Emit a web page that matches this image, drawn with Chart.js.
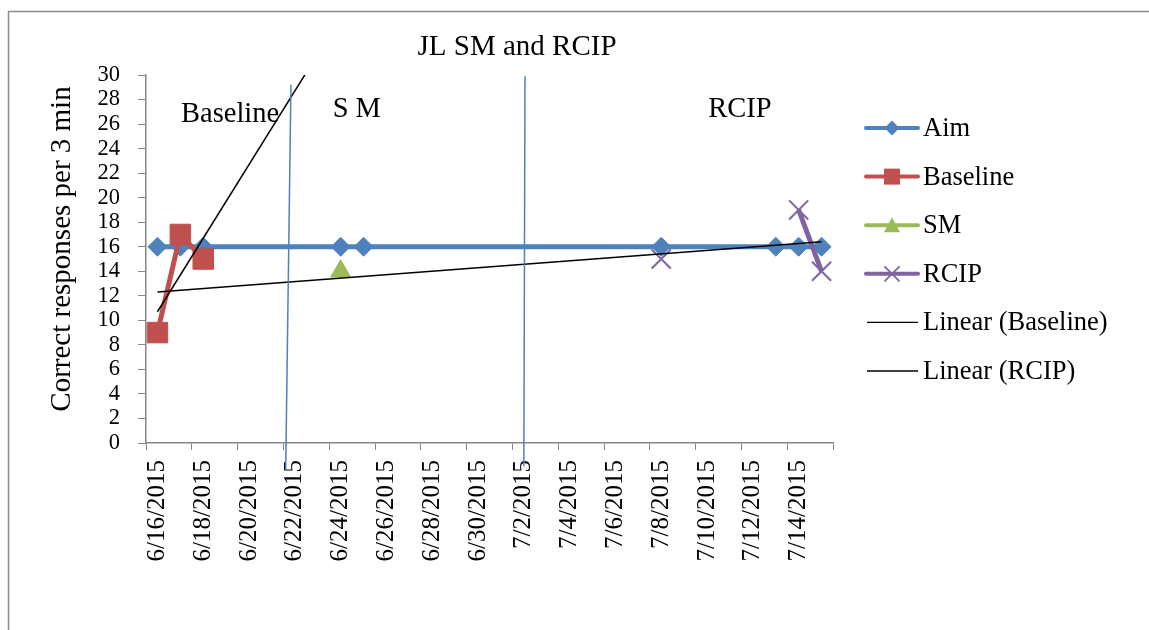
<!DOCTYPE html>
<html>
<head>
<meta charset="utf-8">
<title>JL SM and RCIP</title>
<script src="https://cdn.jsdelivr.net/npm/chart.js"></script>
<style>
  html, body { margin: 0; padding: 0; background: #fff; }
  #wrap { width: 1149px; height: 630px; position: relative; }
</style>
</head>
<body>
<div id="wrap"><canvas id="phaseChart"></canvas></div>
<script>
// data
const aimDates = ['6/16/2015', '6/17/2015', '6/18/2015', '6/24/2015', '6/25/2015', '7/8/2015', '7/13/2015', '7/14/2015', '7/15/2015'];
const aimValues = [16, 16, 16, 16, 16, 16, 16, 16, 16];

const baselineDates = ['6/16/2015', '6/17/2015', '6/18/2015'];
const baselineValues = [9, 17, 15];

const smDates = ['6/24/2015'];
const smValues = [14];

const rcipDates = ['7/8/2015', '7/13/2015', '7/14/2015', '7/15/2015'];
const rcipValues = [15, null, 19, 14];

// trend lines (Excel linear trendlines), end points as read
const trendBaselineDates = ['6/16/2015', '6/23/2015'];
const trendBaselineValues = [10.7, 31.7];
const trendRcipDates = ['6/16/2015', '7/15/2015'];
const trendRcipValues = [12.3, 16.4];

const xTickLabels = ['6/16/2015', '6/18/2015', '6/20/2015', '6/22/2015', '6/24/2015', '6/26/2015', '6/28/2015',
    '6/30/2015', '7/2/2015', '7/4/2015', '7/6/2015', '7/8/2015', '7/10/2015', '7/12/2015', '7/14/2015'];

const legendNames = ['Aim', 'Baseline', 'SM', 'RCIP', 'Linear (Baseline)', 'Linear (RCIP)'];
const phaseNames = ['Baseline', 'S M', 'RCIP'];

const startDay = Date.UTC(2015, 5, 16);
function dayIndex(s) {
    const [m, d, y] = s.split('/').map(Number);
    return Math.round((Date.UTC(y, m - 1, d) - startDay) / 86400000);
}
function pts(dates, values) {
    return dates.map((d, i) => ({ x: dayIndex(d), y: values[i] }));
}

const serif = "'Liberation Serif', 'Times New Roman', serif";
const blue = '#4F81BD', red = '#C0504D', green = '#9BBB59', purple = '#8064A2';

// phase-change lines, in axis units (days from 6/16, value)
const phaseLines = [
    { x1: 5.83, y1: 29.2, x2: 5.60, y2: -2.2 },
    { x1: 16.05, y1: 29.9, x2: 16.0, y2: -1.9 }
];
const phaseLabelPos = [
    { x: 1.03, y: 26.2 },
    { x: 7.65, y: 26.6 },
    { x: 24.05, y: 26.6 }
];

const decor = {
    id: 'decor',
    beforeDraw(c) {
        const ctx = c.ctx;
        ctx.save();
        ctx.strokeStyle = '#8c8c8c';
        ctx.lineWidth = 1.5;
        ctx.beginPath();
        ctx.moveTo(8.5, 640);
        ctx.lineTo(8.5, 11.5);
        ctx.lineTo(1160, 11.5);
        ctx.stroke();
        ctx.restore();
    },
    afterDatasetsDraw(c) {
        const ctx = c.ctx;
        const xs = c.scales.x, ys = c.scales.y;
        ctx.save();
        ctx.strokeStyle = blue;
        ctx.lineWidth = 1.5;
        phaseLines.forEach(l => {
            ctx.beginPath();
            ctx.moveTo(xs.getPixelForValue(l.x1), ys.getPixelForValue(l.y1));
            ctx.lineTo(xs.getPixelForValue(l.x2), ys.getPixelForValue(l.y2));
            ctx.stroke();
        });

        ctx.fillStyle = '#000';
        ctx.font = '28.5px ' + serif;
        ctx.textBaseline = 'alphabetic';
        ctx.textAlign = 'left';
        phaseNames.forEach((t, i) => {
            ctx.fillText(t, xs.getPixelForValue(phaseLabelPos[i].x), ys.getPixelForValue(phaseLabelPos[i].y));
        });

        // title
        ctx.font = '29px ' + serif;
        ctx.textAlign = 'center';
        ctx.fillText('JL SM and RCIP', 517, 55);

        // y axis title
        ctx.save();
        ctx.translate(70, (85 + 413) / 2);
        ctx.rotate(-Math.PI / 2);
        ctx.font = '29px ' + serif;
        ctx.textAlign = 'center';
        ctx.fillText('Correct responses per 3 min', 0, 0);
        ctx.restore();

        // legend
        const styles = [
            { color: blue, w: 4, marker: 'diamond' },
            { color: red, w: 4, marker: 'square' },
            { color: green, w: 4, marker: 'triangle' },
            { color: purple, w: 4, marker: 'cross' },
            { color: '#000', w: 1.3, marker: null },
            { color: '#000', w: 1.3, marker: null }
        ];
        ctx.font = '26.5px ' + serif;
        ctx.textAlign = 'left';
        ctx.textBaseline = 'middle';
        legendNames.forEach((name, i) => {
            const y = 128 + i * 48.6;
            const s = styles[i];
            ctx.strokeStyle = s.color;
            ctx.fillStyle = s.color;
            ctx.lineWidth = s.w;
            ctx.lineCap = s.marker ? 'round' : 'butt';
            ctx.beginPath();
            ctx.moveTo(s.marker ? 866 : 867, y);
            ctx.lineTo(918, y);
            ctx.stroke();
            const mx = 892;
            ctx.beginPath();
            if (s.marker === 'diamond') {
                ctx.moveTo(mx - 7.5, y); ctx.lineTo(mx, y - 7.5); ctx.lineTo(mx + 7.5, y); ctx.lineTo(mx, y + 7.5);
                ctx.closePath(); ctx.fill();
            } else if (s.marker === 'square') {
                ctx.rect(mx - 8, y - 8, 16, 16); ctx.fill();
            } else if (s.marker === 'triangle') {
                ctx.moveTo(mx, y - 8); ctx.lineTo(mx + 8, y + 7); ctx.lineTo(mx - 8, y + 7);
                ctx.closePath(); ctx.fill();
            } else if (s.marker === 'cross') {
                ctx.lineWidth = 1.8;
                ctx.moveTo(mx - 7, y - 7); ctx.lineTo(mx + 7, y + 7);
                ctx.moveTo(mx + 7, y - 7); ctx.lineTo(mx - 7, y + 7);
                ctx.stroke();
            }
            ctx.fillStyle = '#000';
            ctx.fillText(name, 923, y + 1);
        });
        ctx.restore();
    }
};

new Chart(document.getElementById('phaseChart'), {
    type: 'line',
    data: {
        datasets: [
            {
                label: 'Aim', data: pts(aimDates, aimValues), order: 6,
                borderColor: blue, backgroundColor: blue, borderWidth: 5,
                pointStyle: 'rectRot', pointRadius: 9.5, pointBorderWidth: 1
            },
            {
                label: 'Baseline', data: pts(baselineDates, baselineValues), order: 5,
                borderColor: red, backgroundColor: red, borderWidth: 5,
                pointStyle: 'rect', pointRadius: 14.5, pointBorderWidth: 1
            },
            {
                label: 'SM', data: pts(smDates, smValues), order: 4,
                borderColor: green, backgroundColor: green, borderWidth: 5,
                pointStyle: 'triangle', pointRadius: 11.5, pointBorderWidth: 1
            },
            {
                label: 'RCIP', data: pts(rcipDates, rcipValues), order: 3,
                borderColor: purple, backgroundColor: purple, borderWidth: 5,
                pointStyle: 'crossRot', pointRadius: 13.5, pointBorderWidth: 2, spanGaps: false
            },
            {
                label: 'Linear (Baseline)', data: pts(trendBaselineDates, trendBaselineValues), order: 2,
                borderColor: '#000', borderWidth: 1.5, pointRadius: 0
            },
            {
                label: 'Linear (RCIP)', data: pts(trendRcipDates, trendRcipValues), order: 1,
                borderColor: '#000', borderWidth: 1.5, pointRadius: 0
            }
        ]
    },
    options: {
        responsive: true,
        maintainAspectRatio: false,
        animation: false,
        layout: { padding: { top: 75, right: 316, bottom: 0, left: 0 } },
        elements: { line: { tension: 0 } },
        plugins: {
            legend: { display: false },
            tooltip: { enabled: false },
            title: { display: false }
        },
        scales: {
            x: {
                type: 'linear',
                min: -0.5,
                max: 29.5,
                afterBuildTicks: (scale) => {
                    const t = [];
                    for (let v = -0.5; v <= 29.5; v += 2) t.push({ value: v });
                    scale.ticks = t;
                },
                afterFit: (scale) => { scale.height = 187; },
                ticks: {
                    autoSkip: false,
                    minRotation: 90,
                    maxRotation: 90,
                    labelOffset: 11.45,
                    padding: 10,
                    color: '#000',
                    font: { family: serif, size: 25 },
                    callback: (value, i) => xTickLabels[i] || ''
                },
                grid: { drawOnChartArea: false, drawTicks: true, tickLength: 7, color: '#868686' },
                border: { color: '#868686', width: 1.5 }
            },
            y: {
                min: 0,
                max: 30,
                afterFit: (scale) => { scale.width = 146; },
                ticks: {
                    stepSize: 2,
                    padding: 18,
                    color: '#000',
                    font: { family: serif, size: 22.5 },
                    autoSkip: false
                },
                grid: { drawOnChartArea: false, drawTicks: true, tickLength: 8, color: '#868686' },
                border: { color: '#868686', width: 1.5 }
            }
        }
    },
    plugins: [decor]
});
</script>
</body>
</html>
